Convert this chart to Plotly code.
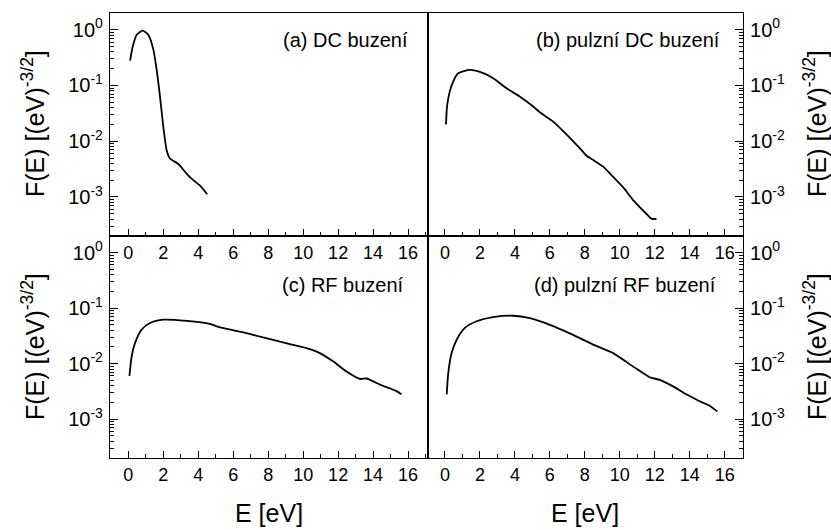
import plotly.graph_objects as go

# ---- data ----
E_a = [0.10, 0.25, 0.48, 0.82, 1.14, 1.43, 1.62, 1.81, 2.00, 2.19, 2.38, 2.86, 3.34, 3.71, 4.10, 4.51]
F_a = [0.28, 0.50, 0.81, 0.96, 0.81, 0.44, 0.19, 0.063, 0.018, 0.0069, 0.0049, 0.0039, 0.0026, 0.0020, 0.0016, 0.00112]

E_b = [0.06, 0.13, 0.38, 0.76, 1.43, 2.19, 2.76, 3.52, 4.29, 5.05, 5.43, 6.19, 6.95, 7.71, 8.10, 8.48,
       9.05, 9.62, 10.19, 10.76, 11.14, 11.52, 11.81, 12.10]
F_b = [0.020, 0.045, 0.10, 0.166, 0.19, 0.166, 0.135, 0.089, 0.063, 0.042, 0.033, 0.0225, 0.0133, 0.0075,
       0.0055, 0.0046, 0.0035, 0.0023, 0.0015, 0.00088, 0.00066, 0.00050, 0.00041, 0.00040]

E_c = [0.06, 0.19, 0.38, 0.76, 1.24, 2.00, 3.34, 4.67, 5.05, 7.14, 9.24, 10.19, 10.95, 11.71, 12.48,
       13.24, 13.62, 14.38, 14.95, 15.34, 15.62]
F_c = [0.0060, 0.0135, 0.0235, 0.041, 0.054, 0.062, 0.059, 0.052, 0.047, 0.033, 0.0225, 0.019, 0.0155,
       0.011, 0.0072, 0.0053, 0.0054, 0.0042, 0.0036, 0.0032, 0.0028]

E_d = [0.10, 0.19, 0.38, 0.67, 1.14, 1.81, 2.76, 3.90, 4.86, 6.00, 7.33, 8.48, 9.62, 10.76, 11.71,
       12.29, 13.05, 13.81, 14.57, 15.14, 15.58]
F_d = [0.0028, 0.0068, 0.0155, 0.027, 0.044, 0.058, 0.069, 0.073, 0.066, 0.050, 0.033, 0.022, 0.0155,
       0.0089, 0.0057, 0.0051, 0.0039, 0.0028, 0.0021, 0.00175, 0.00138]

panel_labels = ["(a) DC buzení", "(b) pulzní DC buzení", "(c) RF buzení", "(d) pulzní RF buzení"]
x_ticks = [0, 2, 4, 6, 8, 10, 12, 14, 16]
y_tickvals = [1, 0.1, 0.01, 0.001]
y_ticktext = ["10<sup>0</sup>", "10<sup>-1</sup>", "10<sup>-2</sup>", "10<sup>-3</sup>"]
y_title = "F(E) [(eV)<sup>-3/2</sup>]"
x_title = "E [eV]"

# ---- layout geometry ----
W, H = 831, 530
xl0, xm, xr1 = 110 / W, 428 / W, 743 / W
yt1, ym, yb0 = 1 - 13 / H, 1 - 236 / H, 1 - 458 / H
FONT = "Liberation Sans, Arial, sans-serif"

minor_y = [m * 10.0 ** k for k in range(-4, 1) for m in range(2, 10)]

fig = go.Figure()
series = [(E_a, F_a), (E_b, F_b), (E_c, F_c), (E_d, F_d)]
for i, (ex, fy) in enumerate(series):
    sfx = "" if i == 0 else str(i + 1)
    fig.add_trace(go.Scatter(x=ex, y=fy, mode="lines",
                             line=dict(color="black", width=1.8, shape="spline", smoothing=0.6),
                             xaxis="x" + sfx, yaxis="y" + sfx, showlegend=False))


def xaxis(domain, anchor, rng):
    return dict(domain=domain, anchor=anchor, range=rng, showline=True, mirror=True, linecolor="black",
                linewidth=1.2, ticks="inside", ticklen=7, tickwidth=1.4, tickcolor="black",
                tickmode="array", tickvals=x_ticks, showgrid=False, zeroline=False,
                tickfont=dict(size=18, color="black", family=FONT),
                minor=dict(dtick=1, tick0=0, ticks="inside", ticklen=4, tickwidth=1.4, tickcolor="black",
                           showgrid=False))


def yaxis(domain, anchor, side):
    return dict(domain=domain, anchor=anchor, type="log", range=[-3.70, 0.30], side=side, showline=True,
                mirror=True, linecolor="black", linewidth=1.2, ticks="inside", ticklen=8, tickwidth=1.4,
                tickcolor="black", tickmode="array", tickvals=y_tickvals, ticktext=y_ticktext,
                showgrid=False, zeroline=False, ticklabelstandoff=2,
                tickfont=dict(size=20, color="black", family=FONT),
                minor=dict(tickmode="array", tickvals=minor_y, ticks="inside", ticklen=4, tickwidth=1.1,
                           tickcolor="black", showgrid=False))


fig.update_layout(
    width=W, height=H, autosize=False, margin=dict(l=0, r=0, t=0, b=0),
    paper_bgcolor="white", plot_bgcolor="white",
    font=dict(family=FONT, color="black"),
    xaxis=xaxis([xl0, xm], "y", [-1.05, 17.14]),
    yaxis=yaxis([ym, yt1], "x", "left"),
    xaxis2=xaxis([xm, xr1], "y2", [-0.97, 17.05]),
    yaxis2=yaxis([ym, yt1], "x2", "right"),
    xaxis3=xaxis([xl0, xm], "y3", [-1.05, 17.14]),
    yaxis3=yaxis([yb0, ym], "x3", "left"),
    xaxis4=xaxis([xm, xr1], "y4", [-0.97, 17.05]),
    yaxis4=yaxis([yb0, ym], "x4", "right"),
)

ann = []
label_pos = [(410, 40), (722, 40), (406, 285), (718, 285)]
for txt, (px, py) in zip(panel_labels, label_pos):
    ann.append(dict(text=txt, x=px / W, y=1 - py / H, xref="paper", yref="paper", xanchor="right",
                    yanchor="middle", showarrow=False, font=dict(size=20, color="black", family=FONT)))
for px in (269, 585):
    ann.append(dict(text=x_title, x=px / W, y=1 - 513 / H, xref="paper", yref="paper", xanchor="center",
                    yanchor="middle", showarrow=False, font=dict(size=25, color="black", family=FONT)))
for px in (33, 815):
    for py in (124, 347):
        ann.append(dict(text=y_title, x=px / W, y=1 - py / H, xref="paper", yref="paper", xanchor="center",
                        yanchor="middle", textangle=-90, showarrow=False,
                        font=dict(size=25, color="black", family=FONT)))
fig.update_layout(annotations=ann)

fig.write_html("out.html")
